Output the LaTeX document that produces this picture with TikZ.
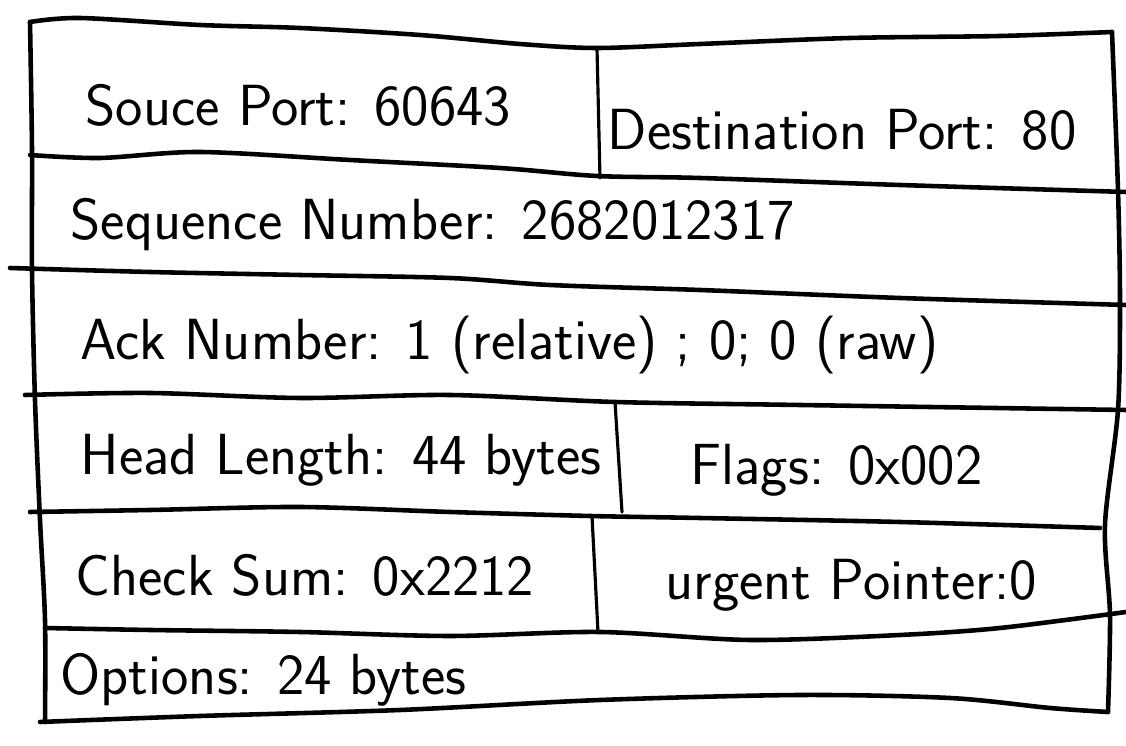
\documentclass[tikz,border=0pt]{standalone}
\usepackage{tikz}
\usetikzlibrary{positioning}

\begin{document}
\begin{tikzpicture}[x=0.01cm, y=-0.01cm, font=\sffamily]
        % Setup the styles for the fields and the pen strokes
        \tikzset{field style/.style={anchor=west,
                                     inner sep=0pt,
                                     font=\sffamily\fontsize{16.5}{20}\selectfont},
                 pen style/.style={line width=1.3pt,
                                   line cap=round,
                                   line join=round},
                 bar style/.style={line width=0.9pt,
                                   line cap=round}}
        \useasboundingbox (0,0) rectangle (1126,746);

        % Draw the outline
        \draw[pen style] plot[smooth] coordinates {(30,22) (80,18) (200,25) (300,28) (420,35) (520,44) (597,48) (700,44) (850,38) (1000,36) (1112,32)};
        \draw[pen style] plot[smooth] coordinates {(30,22) (32,150) (32,270) (35,400) (40,520) (45,620) (45,722)};
        \draw[pen style] plot[smooth] coordinates {(1112,32) (1118,190) (1120,300) (1118,410) (1105,525) (1110,615) (1108,712)};
        \draw[pen style] plot[smooth] coordinates {(40,722) (200,716) (400,710) (600,700) (800,695) (950,698) (1050,708) (1108,712)};

        % Draw the rows
        \draw[pen style] plot[smooth] coordinates {(30,155) (100,158) (200,152) (350,160) (500,168) (597,176) (700,178) (900,185) (1126,192)};
        \draw[pen style] plot[smooth] coordinates {(10,268) (150,272) (300,275) (450,278) (550,285) (700,290) (900,298) (1126,305)};
        \draw[pen style] plot[smooth] coordinates {(25,395) (150,393) (300,398) (450,395) (615,402) (800,405) (1126,410)};
        \draw[pen style] plot[smooth] coordinates {(30,512) (150,510) (300,507) (450,512) (590,516) (700,518) (900,522) (1100,528)};
        \draw[pen style] plot[smooth] coordinates {(45,628) (150,630) (300,632) (450,636) (600,632) (750,640) (900,635) (1000,628) (1126,612)};

        % Draw the dividers
        \draw[bar style] (597,48) -- (600,178);
        \draw[bar style] (615,402) -- (622,512);
        \draw[bar style] (592,516) -- (598,632);

        % Draw the fields
        \node[field style] at (85,105)  (srcport)  {Souce Port: 60643};
        \node[field style] at (607,130) (dstport)  {Destination Port: 80};
        \node[field style] at (70,225)  (seqnum)   {Sequence Number: 2682012317};
        \node[field style] at (80,345)  (acknum)   {Ack Number: 1 (relative) ; 0; 0 (raw)};
        \node[field style] at (80,460)  (headlen)  {Head Length: 44 bytes};
        \node[field style] at (690,470) (flags)    {Flags: 0x002};
        \node[field style] at (75,575)  (checksum) {Check Sum: 0x2212};
        \node[field style] at (665,585) (urgent)   {urgent Pointer:0};
        \node[field style] at (60,680)  (options)  {Options: 24 bytes};
\end{tikzpicture}
\end{document}
